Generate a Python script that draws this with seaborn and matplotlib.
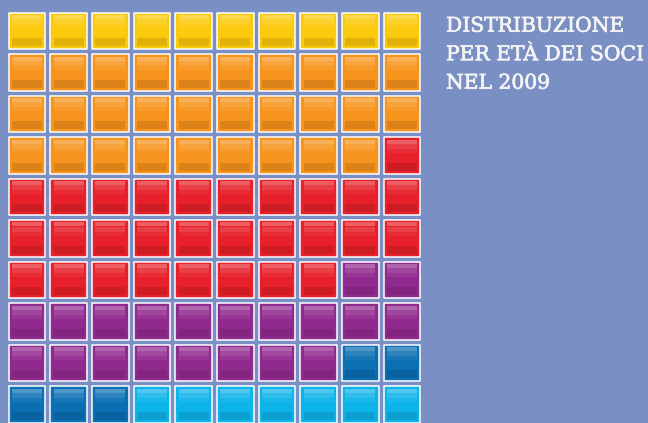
import matplotlib
matplotlib.use('Agg')
import matplotlib.pyplot as plt
import matplotlib.patheffects as pe
import seaborn as sns
import pandas as pd
import numpy as np

# waffle: 100 soci split by age group, filled in reading order
groups = ['gruppo 1', 'gruppo 2', 'gruppo 3', 'gruppo 4', 'gruppo 5', 'gruppo 6']
counts = [10, 29, 29, 20, 5, 7]
colors = ['#fcca0c', '#f7941d', '#e8202a', '#912a8e', '#0b6fb3', '#0db4ea']
title_lines = ['DISTRIBUZIONE', 'PER ETÀ DEI SOCI', 'NEL 2009']
ncols = 10

df = pd.DataFrame({'group': np.repeat(groups, counts)})
df['pos'] = range(len(df))
df['col'] = df['pos'] % ncols
df['row'] = df['pos'] // ncols

sns.set_theme(style='white')
plt.rcParams['font.family'] = ['DejaVu Serif']

bg = '#7a8fc4'
fig = plt.figure(figsize=(6.48, 4.23), dpi=100, facecolor=bg)
ax = fig.add_axes([0, 0, 1, 1])
ax.set_facecolor(bg)

# pixel pitch of the grid
px_x = 41.67
px_y = 41.5
ax.set_xlim(-27 / px_x, (648 - 27) / px_x)
ax.set_ylim((423 - 31) / px_y, -31 / px_y)

sns.scatterplot(data=df, x='col', y='row', hue='group',
                palette=dict(zip(groups, colors)), marker='s', s=690,
                edgecolor='white', linewidth=1.1, legend=False, ax=ax, zorder=2)

# glossy highlight and shadow bands on each square
w = 30 / px_x
ax.bar(df['col'], 4 / px_y, bottom=df['row'] - 16 / px_y, width=w,
       color='white', alpha=0.28, linewidth=0, zorder=3)
ax.bar(df['col'], 5 / px_y, bottom=df['row'] - 12 / px_y, width=w,
       color='white', alpha=0.14, linewidth=0, zorder=3)
ax.bar(df['col'], 4 / px_y, bottom=df['row'] - 7 / px_y, width=w,
       color='white', alpha=0.06, linewidth=0, zorder=3)
ax.bar(df['col'], 8 / px_y, bottom=df['row'] + 7 / px_y, width=w,
       color='black', alpha=0.11, linewidth=0, zorder=3)

ax.set_axis_off()

for i, line in enumerate(title_lines):
    fig.text(446 / 648, 1 - (31.7 + 28.5 * i) / 423, line, ha='left',
             va='baseline', fontsize=14.6, color='#f4f4f4',
             path_effects=[pe.withStroke(linewidth=0.5, foreground='#f4f4f4')])

fig.savefig('out.png', dpi=100, facecolor=bg)
